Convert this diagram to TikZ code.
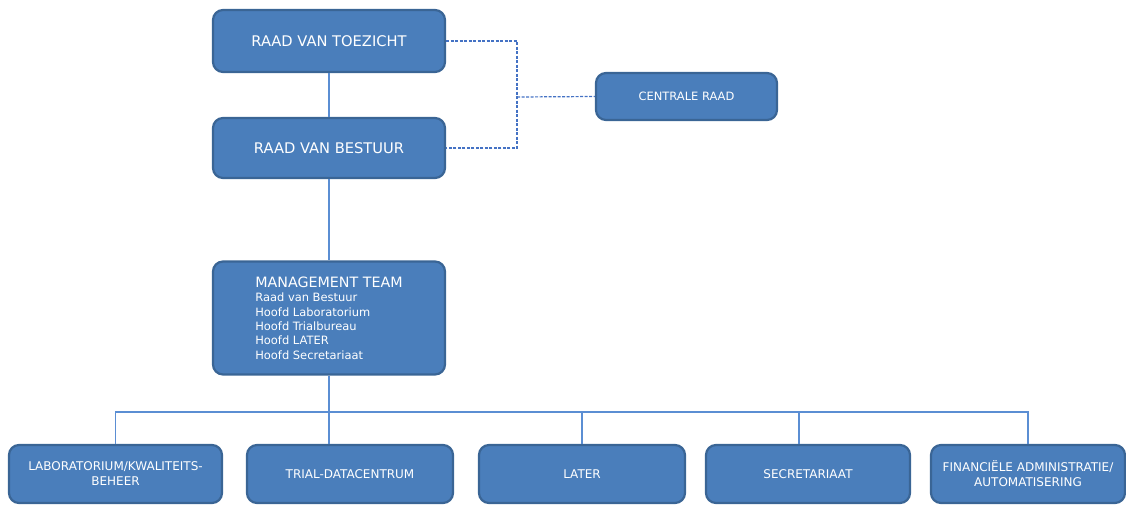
\documentclass[tikz,border=0pt]{standalone}
\usepackage{fontspec}
\setmainfont{DejaVu Sans}
\newdimen\px \px=0.75pt
\definecolor{boxfill}{HTML}{4A7EBB}
\definecolor{boxline}{HTML}{3A6595}
\definecolor{conn}{HTML}{5B8ED3}
\definecolor{dashc}{HTML}{4472C4}
\begin{document}
\begin{tikzpicture}[x=0.75pt,y=-0.75pt,
  orgbox/.style={draw=boxline, fill=boxfill, line width=2.2\px, rounded corners=10\px,
    text=white, align=center, inner sep=0pt},
  conline/.style={draw=conn, line width=1.2\px},
  dashline/.style={draw=dashc, line width=1.2\px, dash pattern=on 3\px off 1.5\px}]
\useasboundingbox (0,0) rectangle (1126,504);
\node[orgbox, minimum width=232\px, minimum height=62\px, font=\fontsize{11pt}{13pt}\selectfont] (tz) at (329,41) {RAAD VAN TOEZICHT};
\node[orgbox, minimum width=232\px, minimum height=60\px, font=\fontsize{11pt}{13pt}\selectfont] (rb) at (329,148) {RAAD VAN BESTUUR};
\node[orgbox, minimum width=181\px, minimum height=47\px, font=\fontsize{8.6pt}{10pt}\selectfont] (cr) at (686.5,96.5) {CENTRALE RAAD};
\node[orgbox, minimum width=232\px, minimum height=113\px, align=left, font=\fontsize{8.6pt}{10.8pt}\selectfont] (mt) at (329,318)
  {{\fontsize{10.7pt}{12pt}\selectfont MANAGEMENT TEAM}\\[0pt]
   Raad van Bestuur\\ Hoofd Laboratorium\\ Hoofd Trialbureau\\ Hoofd LATER\\ Hoofd Secretariaat};
\tikzset{bottombox/.style={orgbox, minimum height=58\px, font=\fontsize{9pt}{11.2pt}\selectfont}}
\node[bottombox, minimum width=213\px] (b1) at (115.5,474) {LABORATORIUM/KWALITEITS-\\BEHEER};
\node[bottombox, minimum width=206\px] (b2) at (350,474) {TRIAL-DATACENTRUM};
\node[bottombox, minimum width=206\px] (b3) at (582,474) {LATER};
\node[bottombox, minimum width=204\px] (b4) at (808,474) {SECRETARIAAT};
\node[bottombox, minimum width=194\px] (b5) at (1028,474) {FINANCIËLE ADMINISTRATIE/\\AUTOMATISERING};
% solid connectors
\draw[conline] (tz.south) -- (rb.north);
\draw[conline] (rb.south) -- (mt.north);
\coordinate (bus) at (330,412);
\draw[conline] (mt.south) -- (mt.south |- b2.north);
\draw[conline] (b1.north) |- (bus);
\draw[conline] (b5.north) |- (bus);
\draw[conline] (b3.north) -- (b3.north |- bus);
\draw[conline] ([xshift=-9\px]b4.north) -- ([xshift=-9\px]b4.north |- bus);
% dashed connectors
\coordinate (dv) at (517,97);
\draw[dashline] (tz.east) -| (dv) |- (rb.east);
\draw[dashline] (dv) -- (cr.west);
\end{tikzpicture}
\end{document}
